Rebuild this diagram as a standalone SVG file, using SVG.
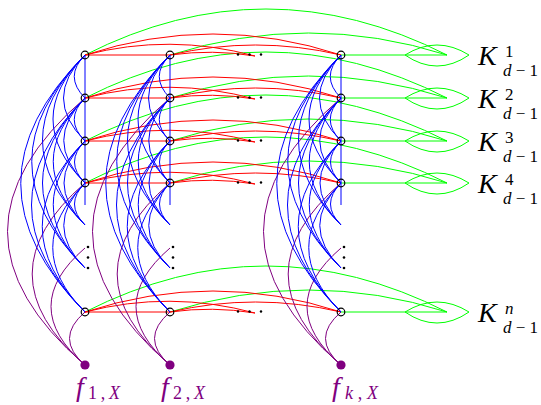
<svg xmlns="http://www.w3.org/2000/svg" width="541" height="405" viewBox="0 0 541 405">
<style>
.b{fill:none;stroke:#0000ff;stroke-width:1}
.p{fill:none;stroke:#800080;stroke-width:1}
.r{fill:none;stroke:#ff0000;stroke-width:1}
.g{fill:none;stroke:#00ff00;stroke-width:1}
.n{fill:none;stroke:#000;stroke-width:1.2}
.dt{fill:#000}
.fn{fill:#800080}
.lab{font-family:"Liberation Serif","Times New Roman",serif}
.it{font-style:italic}
</style>
<defs>
<g id="colB" class="b">
<path d="M0,55 V205"/>
<path d="M0,55 Q-21.5,76.5 0,98"/>
<path d="M0,55 Q-43,98 0,141"/>
<path d="M0,55 Q-64,119 0,183"/>
<path d="M0,55 Q-128.5,183.5 0,312"/>
<path d="M0,98 Q-21.5,119.5 0,141"/>
<path d="M0,98 Q-42.5,140.5 0,183"/>
<path d="M0,98 Q-107,205 0,312"/>
<path d="M0,141 Q-21,162 0,183"/>
<path d="M0,141 Q-85.5,226.5 0,312"/>
<path d="M0,183 Q-64.5,247.5 0,312"/>
<path d="M0,55 Q-85,140 0,225"/>
<path d="M0,55 Q-106.5,161.5 0,268"/>
<path d="M0,98 Q-63.5,161.5 0,225"/>
<path d="M0,98 Q-85,183 0,268"/>
<path d="M0,141 Q-42,183 0,225"/>
<path d="M0,141 Q-63.5,204.5 0,268"/>
<path d="M0,183 Q-21,204 0,225"/>
<path d="M0,183 Q-42.5,225.5 0,268"/>
</g>
<g id="colP" class="p">
<path d="M0,365 Q-155,231.5 0,98"/>
<path d="M0,365 Q-105.6,274 0,183"/>
<path d="M0,365 Q-68,306.5 0,248"/>
<path d="M0,365 Q-31,338.5 0,312"/>
</g>
<g id="colDots" class="dt">
<circle cx="3" cy="247" r="1.3"/><circle cx="3" cy="257.5" r="1.3"/><circle cx="3" cy="268" r="1.3"/>
</g>
<g id="rowG" class="g">
<path d="M85,0 Q266,-92 447,0"/>
<path d="M170,0 Q308.5,-44 447,0"/>
<path d="M341,0 H447"/>
<path d="M405,0 Q437,-20 469,0 Q437,22 405,0"/>
</g>
<g id="rowR" class="r">
<path d="M85,0 H170"/>
<path d="M85,0 Q170,-22 255,1"/>
<path d="M85,0 Q213,-42 341,0"/>
<path d="M170,0 Q212.5,-6 255,1"/>
<path d="M170,0 Q255.5,-20 341,0"/>
</g>
<g id="rowDots" class="dt">
<circle cx="238" cy="-0.5" r="1.2"/><circle cx="249.5" cy="-0.5" r="1.2"/><circle cx="261" cy="-0.5" r="1.2"/>
</g>
</defs>
<rect width="541" height="405" fill="#fff"/>
<g id="connectors">
<use href="#rowG" y="55"/><use href="#rowG" y="98"/><use href="#rowG" y="141"/><use href="#rowG" y="183"/><use href="#rowG" y="312"/>
<use href="#rowR" y="55"/><use href="#rowR" y="98"/><use href="#rowR" y="141"/><use href="#rowR" y="183"/><use href="#rowR" y="312"/>
<use href="#colP" x="85"/><use href="#colP" x="170"/><use href="#colP" x="341"/>
<use href="#colB" x="85"/><use href="#colB" x="170"/><use href="#colB" x="341"/>
</g>
<g id="ellipsis">
<use href="#rowDots" y="55"/><use href="#rowDots" y="98"/><use href="#rowDots" y="141"/><use href="#rowDots" y="183"/><use href="#rowDots" y="312"/>
<use href="#colDots" x="85"/><use href="#colDots" x="170"/><use href="#colDots" x="341"/>
</g>
<g id="v-1-1"><circle class="n" cx="85" cy="55" r="3.8"/></g>
<g id="v-1-2"><circle class="n" cx="85" cy="98" r="3.8"/></g>
<g id="v-1-3"><circle class="n" cx="85" cy="141" r="3.8"/></g>
<g id="v-1-4"><circle class="n" cx="85" cy="183" r="3.8"/></g>
<g id="v-1-n"><circle class="n" cx="85" cy="312" r="3.8"/></g>
<g id="v-2-1"><circle class="n" cx="170" cy="55" r="3.8"/></g>
<g id="v-2-2"><circle class="n" cx="170" cy="98" r="3.8"/></g>
<g id="v-2-3"><circle class="n" cx="170" cy="141" r="3.8"/></g>
<g id="v-2-4"><circle class="n" cx="170" cy="183" r="3.8"/></g>
<g id="v-2-n"><circle class="n" cx="170" cy="312" r="3.8"/></g>
<g id="v-k-1"><circle class="n" cx="341" cy="55" r="3.8"/></g>
<g id="v-k-2"><circle class="n" cx="341" cy="98" r="3.8"/></g>
<g id="v-k-3"><circle class="n" cx="341" cy="141" r="3.8"/></g>
<g id="v-k-4"><circle class="n" cx="341" cy="183" r="3.8"/></g>
<g id="v-k-n"><circle class="n" cx="341" cy="312" r="3.8"/></g>
<g id="f1"><circle class="fn" cx="85" cy="365" r="4.6"/>
<text class="lab" fill="#800080"><tspan class="it" x="76" y="396" font-size="28">f</tspan><tspan x="88" y="399" font-size="18" textLength="32" lengthAdjust="spacing">1,<tspan class="it">X</tspan></tspan></text></g>
<g id="f2"><circle class="fn" cx="170" cy="365" r="4.6"/>
<text class="lab" fill="#800080"><tspan class="it" x="161" y="396" font-size="28">f</tspan><tspan x="173" y="399" font-size="18" textLength="32" lengthAdjust="spacing">2,<tspan class="it">X</tspan></tspan></text></g>
<g id="fk"><circle class="fn" cx="341" cy="365" r="4.6"/>
<text class="lab" fill="#800080"><tspan class="it" x="332" y="396" font-size="28">f</tspan><tspan x="345" y="399" font-size="18" textLength="33" lengthAdjust="spacing"><tspan class="it">k</tspan>,<tspan class="it">X</tspan></tspan></text></g>
<g id="K1"><text class="lab"><tspan class="it" x="478" y="65" font-size="28">K</tspan><tspan x="505" y="57" font-size="17">1</tspan><tspan x="503" y="76" font-size="17" textLength="35" lengthAdjust="spacing"><tspan class="it">d</tspan>−1</tspan></text></g>
<g id="K2"><text class="lab"><tspan class="it" x="478" y="108" font-size="28">K</tspan><tspan x="505" y="100" font-size="17">2</tspan><tspan x="503" y="119" font-size="17" textLength="35" lengthAdjust="spacing"><tspan class="it">d</tspan>−1</tspan></text></g>
<g id="K3"><text class="lab"><tspan class="it" x="478" y="151" font-size="28">K</tspan><tspan x="505" y="143" font-size="17">3</tspan><tspan x="503" y="162" font-size="17" textLength="35" lengthAdjust="spacing"><tspan class="it">d</tspan>−1</tspan></text></g>
<g id="K4"><text class="lab"><tspan class="it" x="478" y="193" font-size="28">K</tspan><tspan x="505" y="185" font-size="17">4</tspan><tspan x="503" y="204" font-size="17" textLength="35" lengthAdjust="spacing"><tspan class="it">d</tspan>−1</tspan></text></g>
<g id="Kn"><text class="lab"><tspan class="it" x="478" y="322" font-size="28">K</tspan><tspan x="505" y="314" font-size="17" class="it">n</tspan><tspan x="503" y="333" font-size="17" textLength="35" lengthAdjust="spacing"><tspan class="it">d</tspan>−1</tspan></text></g>
</svg>
